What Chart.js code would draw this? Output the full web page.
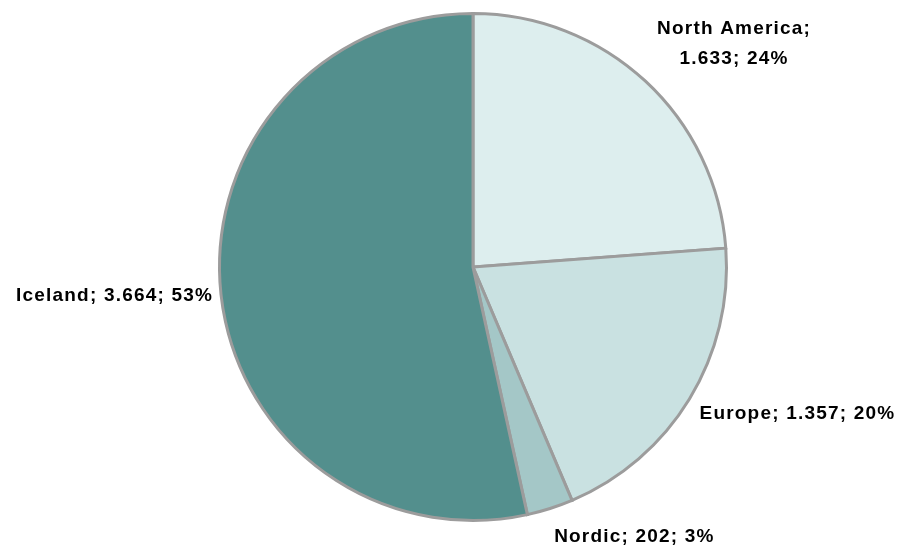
<!DOCTYPE html>
<html>
<head>
<meta charset="utf-8">
<script src="https://cdn.jsdelivr.net/npm/chart.js@4"></script>
<style>
  html, body { margin: 0; padding: 0; background: #fff; }
  #wrap { width: 901px; height: 547px; }
</style>
</head>
<body>
<div id="wrap"><canvas id="cs"></canvas></div>
<script>
var regions = ["North America", "Europe", "Nordic", "Iceland"];
var values = [1633, 1357, 202, 3664];
var shares = ["24%", "20%", "3%", "53%"];
var valueText = ["1.633", "1.357", "202", "3.664"];

var colors = ["#ddeeee", "#c9e1e1", "#a4c7c7", "#538f8d"];

// label placement relative to the arc's mid point (style only)
var labelStyle = [
  { align: "center", dx: 75, dy: -23, lines: 2 },
  { align: "left", dx: -7, dy: 4 },
  { align: "left", dx: -2, dy: 9 },
  { align: "right", dx: 12, dy: -1 }
];

var pieLabels = {
  id: "pieLabels",
  afterDraw: function (chart) {
    var c = chart.ctx;
    var arcs = chart.getDatasetMeta(0).data;
    c.save();
    c.font = "bold 19px 'Liberation Sans', Arial, sans-serif";
    c.fillStyle = "#000";
    c.textBaseline = "middle";
    if ("letterSpacing" in c) c.letterSpacing = "1.2px";
    arcs.forEach(function (arc, i) {
      var p = arc.getProps(["x", "y", "startAngle", "endAngle", "outerRadius"], true);
      var mid = (p.startAngle + p.endAngle) / 2;
      var r = p.outerRadius + 20;
      var x = p.x + Math.cos(mid) * r + labelStyle[i].dx;
      var y = p.y + Math.sin(mid) * r + labelStyle[i].dy;
      c.textAlign = labelStyle[i].align;
      if (labelStyle[i].lines === 2) {
        c.fillText(regions[i] + ";", x, y - 15);
        c.fillText(valueText[i] + "; " + shares[i], x, y + 15);
      } else {
        c.fillText(regions[i] + "; " + valueText[i] + "; " + shares[i], x, y);
      }
    });
    c.restore();
  }
};

new Chart(document.getElementById("cs"), {
  type: "pie",
  data: {
    labels: regions,
    datasets: [{
      data: values,
      backgroundColor: colors,
      borderColor: "#9c9c9c",
      borderWidth: 3,
      borderJoinStyle: "miter"
    }]
  },
  options: {
    responsive: true,
    maintainAspectRatio: false,
    animation: false,
    layout: { padding: { left: 45, right: 0, top: 12, bottom: 25 } },
    plugins: {
      legend: { display: false },
      tooltip: { enabled: false }
    }
  },
  plugins: [pieLabels]
});
</script>
</body>
</html>
